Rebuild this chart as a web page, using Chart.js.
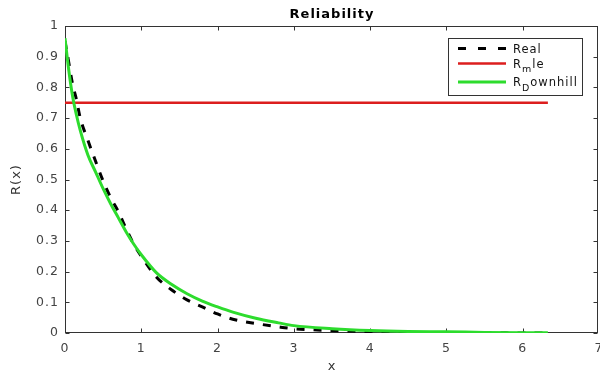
<!DOCTYPE html>
<html>
<head>
<meta charset="utf-8">
<script src="https://cdn.jsdelivr.net/npm/chart.js@4.4.1/dist/chart.umd.min.js"></script>
<style>
html,body{margin:0;padding:0;background:#ffffff;}
#wrap{width:600px;height:374px;}
canvas{display:block;}
</style>
</head>
<body>
<div id="wrap"><canvas id="c" width="600" height="374"></canvas></div>
<script>
// ---- data ----
const xValues = [0, 0.05, 0.1, 0.15, 0.2, 0.3, 0.4, 0.5, 0.6, 0.7, 0.8, 0.9, 1.0, 1.2, 1.4, 1.6, 1.8, 2.0, 2.2, 2.5, 2.8, 3.0, 3.5, 4.0, 4.5, 5.0, 5.5, 6.0, 6.33];
const realValues = [0.95, 0.88, 0.81, 0.76, 0.70, 0.628, 0.56, 0.495, 0.44, 0.395, 0.34, 0.29, 0.25, 0.182, 0.14, 0.108, 0.085, 0.062, 0.045, 0.031, 0.02, 0.014, 0.008, 0.004, 0.002, 0.001, 0.001, 0.0, 0.0];
const downhillValues = [0.96, 0.855, 0.77, 0.71, 0.66, 0.58, 0.525, 0.47, 0.42, 0.375, 0.33, 0.29, 0.255, 0.196, 0.158, 0.128, 0.104, 0.085, 0.068, 0.048, 0.033, 0.024, 0.014, 0.008, 0.005, 0.004, 0.002, 0.001, 0.001];
const mleX = [0, 6.33];
const mleValues = [0.75, 0.75];
const seriesLabels = ['Real', 'R_mle', 'R_Downhill'];
const xTicks = [0, 1, 2, 3, 4, 5, 6, 7];
const xTickLabels = ['0', '1', '2', '3', '4', '5', '6', '7'];
const yTicks = [0, 0.1, 0.2, 0.3, 0.4, 0.5, 0.6, 0.7, 0.8, 0.9, 1];
const yTickLabels = ['0', '0.1', '0.2', '0.3', '0.4', '0.5', '0.6', '0.7', '0.8', '0.9', '1'];
const titleText = 'Reliability';
const xTitle = 'x';
const yTitle = 'R(x)';

const FONT = '"DejaVu Sans", "Liberation Sans", sans-serif';
const AXIS_COLOR = '#333333';

function pts(xs, ys) { return xs.map((x, i) => ({x: x, y: ys[i]})); }

function parseLabel(s) {
  const out = [];
  let i = 0, buf = '';
  while (i < s.length) {
    if (s[i] === '_' && i + 1 < s.length) {
      if (buf) { out.push({t: buf, sub: false}); buf = ''; }
      out.push({t: s[i + 1], sub: true});
      i += 2;
    } else { buf += s[i]; i++; }
  }
  if (buf) out.push({t: buf, sub: false});
  return out;
}

const spacingPlugin = {
  id: 'spacing',
  beforeDraw(chart) { try { chart.ctx.letterSpacing = '1px'; } catch (e) {} }
};

const boxPlugin = {
  id: 'axesBox',
  beforeDatasetsDraw(chart) {
    const {ctx, chartArea: a, scales: {x, y}} = chart;
    ctx.save();
    ctx.strokeStyle = AXIS_COLOR;
    ctx.lineWidth = 1;
    const L = Math.round(a.left) + 0.5, R = Math.round(a.right) - 1.5;
    const T = Math.round(a.top) + 0.5, B = Math.round(a.bottom) - 0.5;
    ctx.strokeRect(L, T, R - L, B - T);
    const tl = 4;
    ctx.beginPath();
    xTicks.forEach(v => {
      const px = Math.min(Math.round(x.getPixelForValue(v)) + 0.5, R);
      ctx.moveTo(px, B); ctx.lineTo(px, B - tl);
      ctx.moveTo(px, T); ctx.lineTo(px, T + tl);
    });
    yTicks.forEach(v => {
      const py = Math.round(y.getPixelForValue(v)) + 0.5;
      ctx.moveTo(L, py); ctx.lineTo(L + tl, py);
      ctx.moveTo(R, py); ctx.lineTo(R - tl, py);
    });
    ctx.stroke();
    ctx.restore();
  }
};

const legendPlugin = {
  id: 'mLegend',
  afterDraw(chart) {
    const {ctx, chartArea: a} = chart;
    const ds = chart.data.datasets;
    ctx.save();
    try { ctx.letterSpacing = '1px'; } catch (e) {}
    const fs = 11.5, ss = 9.5;
    const fMain = fs + 'px ' + FONT, fSub = ss + 'px ' + FONT;
    const parts = ds.map(d => parseLabel(d.label));
    const widths = parts.map(p => p.reduce((w, seg) => { ctx.font = seg.sub ? fSub : fMain; return w + ctx.measureText(seg.t).width; }, 0));
    const maxW = Math.max.apply(null, widths);
    const lineLen = 48, padL = 10, gap = 7, padR = 5;
    const boxW = padL + lineLen + gap + maxW + padR;
    const right = Math.round(a.right - 16);
    const left = Math.round(right - boxW);
    const top = Math.round(a.top + 11.5);
    const rowH = parts.map(p => p.some(s => s.sub) ? 18.5 : 15);
    const boxH = Math.round(3 + rowH.reduce((s, h) => s + h, 0) + 3);
    ctx.fillStyle = '#ffffff';
    ctx.fillRect(left, top, right - left, boxH);
    ctx.strokeStyle = AXIS_COLOR;
    ctx.lineWidth = 1;
    ctx.strokeRect(left + 0.5, top + 0.5, right - left - 1, boxH - 1);
    let yy = top + 3;
    ds.forEach((d, i) => {
      const cy = yy + 7.5;
      ctx.save();
      ctx.strokeStyle = d.borderColor;
      ctx.lineWidth = d.borderWidth;
      ctx.setLineDash(d.borderDash && d.borderDash.length ? [8, 12] : []);
      ctx.beginPath();
      ctx.moveTo(left + padL, cy);
      ctx.lineTo(left + padL + lineLen, cy);
      ctx.stroke();
      ctx.restore();
      let tx = left + padL + lineLen + gap;
      const base = cy + 4.2;
      ctx.fillStyle = '#111111';
      ctx.textAlign = 'left';
      ctx.textBaseline = 'alphabetic';
      parts[i].forEach(seg => {
        ctx.font = seg.sub ? fSub : fMain;
        ctx.fillText(seg.t, tx, seg.sub ? base + 4.5 : base);
        tx += ctx.measureText(seg.t).width;
      });
      yy += rowH[i];
    });
    ctx.restore();
  }
};

const cfg = {
  type: 'line',
  data: {
    datasets: [
      {label: seriesLabels[0], data: pts(xValues, realValues), borderColor: '#000000', borderWidth: 3, borderDash: [8, 9], pointRadius: 0, cubicInterpolationMode: 'monotone', fill: false, order: 3},
      {label: seriesLabels[1], data: pts(mleX, mleValues), borderColor: '#dc1e1e', borderWidth: 2.5, pointRadius: 0, fill: false, order: 2},
      {label: seriesLabels[2], data: pts(xValues, downhillValues), borderColor: '#2ddc2d', borderWidth: 3, pointRadius: 0, cubicInterpolationMode: 'monotone', fill: false, order: 1}
    ]
  },
  options: {
    responsive: false,
    animation: false,
    devicePixelRatio: 1,
    layout: {padding: {left: 0, right: 1, top: 0, bottom: 0}},
    plugins: {
      legend: {display: false},
      tooltip: {enabled: false},
      title: {
        display: true,
        fullSize: false,
        text: titleText,
        color: '#000000',
        font: {family: FONT, size: 13, weight: 'bold', lineHeight: 1},
        padding: {top: 8.5, bottom: 4.5}
      }
    },
    scales: {
      x: {
        type: 'linear', min: 0, max: 7,
        grid: {display: false, drawTicks: false},
        border: {display: false},
        afterBuildTicks: s => { s.ticks = xTicks.map(v => ({value: v})); },
        afterFit: s => { s.height = 41; s.paddingLeft = 0; s.paddingRight = 0; },
        ticks: {autoSkip: false, maxRotation: 0, padding: 8, color: '#444444', font: {family: FONT, size: 12.5}, callback: (v, i) => xTickLabels[i]},
        title: {display: true, text: xTitle, color: '#333333', font: {family: FONT, size: 13, lineHeight: 1.2}, padding: {top: 0, bottom: 0}}
      },
      y: {
        type: 'linear', min: 0, max: 1,
        grid: {display: false, drawTicks: false},
        border: {display: false},
        afterBuildTicks: s => { s.ticks = yTicks.map(v => ({value: v})); },
        afterFit: s => { s.width = 65; s.paddingTop = 0; s.paddingBottom = 0; },
        ticks: {autoSkip: false, padding: 6, color: '#444444', font: {family: FONT, size: 12.5}, callback: (v, i) => yTickLabels[i]},
        title: {display: true, text: yTitle, color: '#333333', font: {family: FONT, size: 13, lineHeight: 1.2}, padding: {top: 9, bottom: 0}}
      }
    }
  },
  plugins: [spacingPlugin, boxPlugin, legendPlugin]
};

new Chart(document.getElementById('c'), cfg);
</script>
</body>
</html>
